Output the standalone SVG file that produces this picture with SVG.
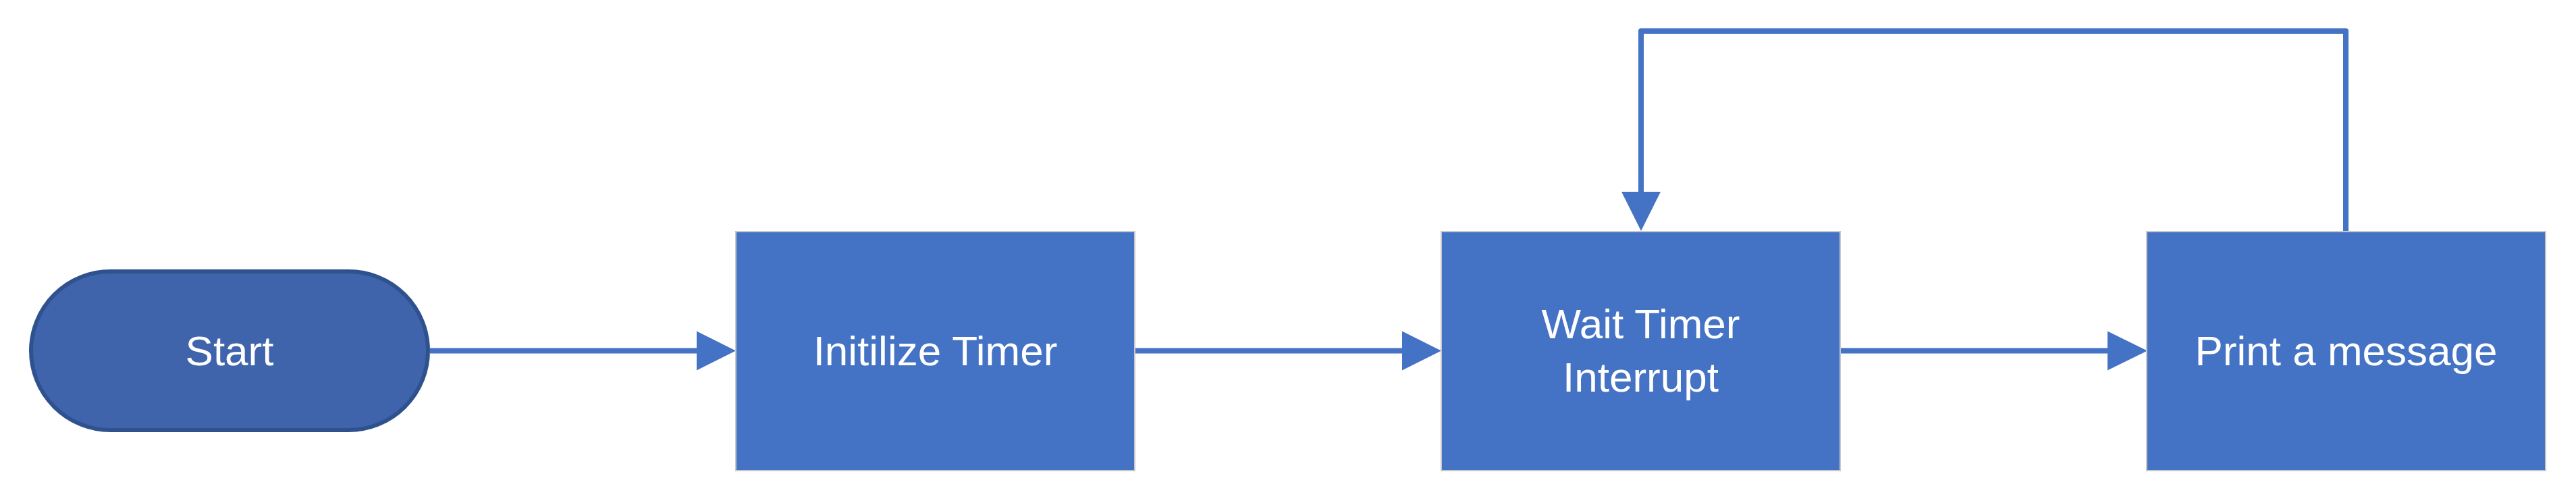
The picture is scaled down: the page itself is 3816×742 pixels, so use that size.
<svg xmlns="http://www.w3.org/2000/svg" width="3816" height="742" viewBox="0 0 3816 742">
<style>
.box{fill:#4472C4;stroke:#C8C8C8;stroke-width:2}
.term{fill:#3F64AC;stroke:#2F528F;stroke-width:6}
.lbl{font-family:"Liberation Sans",Arial,sans-serif;font-size:62px;fill:#FFFFFF;text-anchor:middle}
.conn{fill:none;stroke:#4472C4;stroke-width:8}
.head{fill:#4472C4}
</style>
<rect x="0" y="0" width="3816" height="742" fill="#FFFFFF"/>
<g id="connectors">
<line class="conn" x1="637" y1="519.5" x2="1034" y2="519.5"/>
<polygon class="head" points="1032,490.5 1090,519.5 1032,548.5"/>
<line class="conn" x1="1681" y1="519.5" x2="2079" y2="519.5"/>
<polygon class="head" points="2077,490.5 2135,519.5 2077,548.5"/>
<line class="conn" x1="2726" y1="519.5" x2="3124" y2="519.5"/>
<polygon class="head" points="3122,490.5 3181,519.5 3122,548.5"/>
<path class="conn" d="M3475,343 V46 H2431 V286" stroke-linejoin="round"/>
<polygon class="head" points="2402,284 2460,284 2431,342"/>
</g>
<g id="start">
<rect class="term" x="46" y="402" width="588" height="235" rx="117.5" ry="117.5"/>
<text class="lbl" x="340" y="541">Start</text>
</g>
<g id="init">
<rect class="box" x="1090" y="343" width="591" height="354"/>
<text class="lbl" x="1385.5" y="541">Initilize Timer</text>
</g>
<g id="wait">
<rect class="box" x="2135" y="343" width="591" height="354"/>
<text class="lbl" x="2430.5" y="501">Wait Timer</text>
<text class="lbl" x="2430.5" y="580">Interrupt</text>
</g>
<g id="print">
<rect class="box" x="3180" y="343" width="591" height="354"/>
<text class="lbl" x="3475.5" y="541">Print a message</text>
</g>
</svg>
